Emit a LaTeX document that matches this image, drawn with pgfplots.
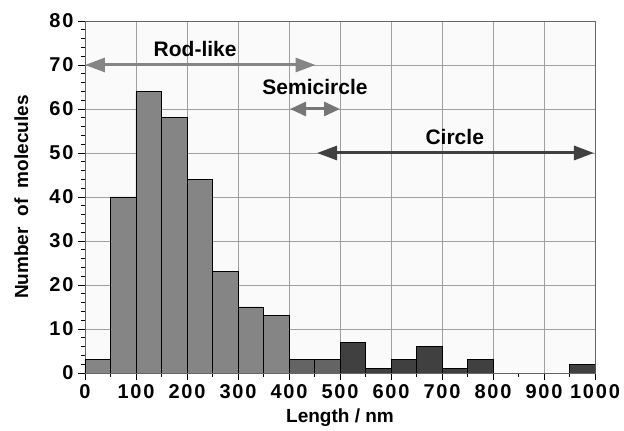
\documentclass[border=0pt]{standalone}
\usepackage{fontspec}
\setmainfont{Liberation Sans}
\newfontfamily\tickfont[LetterSpace=9]{Liberation Sans}
\usepackage{pgfplots}
\pgfplotsset{compat=1.18}
\usetikzlibrary{arrows.meta}
\definecolor{rodc}{HTML}{858585}
\definecolor{semc}{HTML}{646464}
\definecolor{circ}{HTML}{404040}
\definecolor{semarrow}{HTML}{767676}
\begin{document}
\begin{tikzpicture}
\begin{axis}[
  width=510pt, height=352pt, scale only axis,
  xmin=0, xmax=1000, ymin=0, ymax=80,
  xtick={0,100,...,1000}, minor xtick={50,150,...,950},
  ytick={0,10,...,80}, minor y tick num=4,
  tick align=outside, xtick pos=left, ytick pos=left,
  major tick length=7pt, minor tick length=4pt,
  every tick/.style={black, line width=0.8pt},
  grid=major, major grid style={gray!75, line width=0.6pt},
  axis line style={gray!80!black, line width=0.9pt},
  axis background/.style={fill=black!2},
  /pgf/number format/assume math mode=true,
  /pgf/number format/set thousands separator={},
  ticklabel style={font=\tickfont\fontsize{20}{20}\selectfont\bfseries},
  xticklabel style={yshift=-1pt},
  yticklabel style={xshift=-1pt},
  every axis x label/.style={at={(axis description cs:0.5,-0.128)},anchor=center},
  every axis y label/.style={at={(axis description cs:-0.125,0.5)},rotate=90,anchor=center},
  label style={font=\fontsize{19}{19}\selectfont\bfseries},
  xlabel={Length\ /\ nm},
  ylabel={Number\ \ of\ \ molecules},
]
\addplot[ybar interval, fill=rodc, draw=black, line width=0.8pt] coordinates {
 (0,3) (50,40) (100,64) (150,58) (200,44) (250,23) (300,15) (350,13) (400,0)};
\addplot[ybar interval, fill=semc, draw=black, line width=0.8pt] coordinates {
 (400,3) (450,3) (500,0)};
\addplot[ybar interval, fill=circ, draw=black, line width=0.8pt] coordinates {
 (500,7) (550,1) (600,3) (650,6) (700,1) (750,3) (800,0)};
\addplot[ybar interval, fill=circ, draw=black, line width=0.8pt] coordinates {
 (950,2) (1000,0)};
\draw[rodc, line width=3pt, {Triangle[width=14pt,length=20pt]}-{Triangle[width=14pt,length=20pt]}] (axis cs:0,70) -- (axis cs:452,70);
\draw[semarrow, line width=3pt, {Triangle[width=14pt,length=16pt]}-{Triangle[width=14pt,length=16pt]}] (axis cs:402,60) -- (axis cs:500,60);
\draw[circ, line width=3pt, {Triangle[width=14pt,length=20pt]}-{Triangle[width=14pt,length=20pt]}] (axis cs:455,50) -- (axis cs:998,50);
\node[font=\fontsize{21}{21}\selectfont\bfseries] at (axis cs:216,73.6) {Rod-like};
\node[font=\fontsize{21}{21}\selectfont\bfseries] at (axis cs:451,65) {Semicircle};
\node[font=\fontsize{21}{21}\selectfont\bfseries] at (axis cs:725,53.6) {Circle};
\end{axis}
\path (current axis.south west) ++(-85pt,-58pt) (current axis.north east) ++(29pt,21pt);
\end{tikzpicture}
\end{document}
